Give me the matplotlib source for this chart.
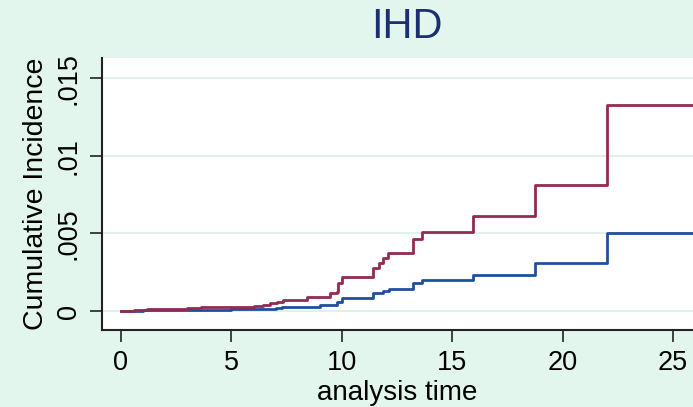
import numpy as np
import matplotlib.pyplot as plt

plt.rcParams['font.family'] = ['Liberation Sans', 'DejaVu Sans']

# step times (analysis time) and cumulative incidence
t_red = [0, 0.6, 1.2, 2.0, 3.0, 3.6, 4.6, 6.0, 6.45, 6.75, 7.05, 7.35, 8.4,
         9.46, 9.76, 9.83, 9.99, 11.39, 11.69, 11.87, 12.1, 13.23, 13.65,
         15.94, 18.73, 22.0, 26.0]
y_red = [0, 0.00005, 0.00013, 0.00016, 0.0002, 0.00025, 0.00028, 0.00032,
         0.00039, 0.0005, 0.0006, 0.00071, 0.00088, 0.00114, 0.00124,
         0.00182, 0.00221, 0.00275, 0.00307, 0.0034, 0.00376, 0.00462,
         0.0051, 0.00612, 0.00811, 0.01327, 0.01327]

t_blue = [0, 1.0, 2.5, 4.0, 5.0, 6.0, 7.0, 7.3, 8.4, 9.0, 9.76, 9.99, 11.39,
          11.87, 12.15, 13.23, 13.65, 15.94, 18.73, 22.0, 26.0]
y_blue = [0, 0.00004, 0.00007, 0.0001, 0.00012, 0.00015, 0.0002, 0.00024,
          0.00028, 0.00039, 0.0006, 0.00086, 0.00114, 0.00129, 0.00142,
          0.00178, 0.002, 0.00232, 0.00311, 0.00504, 0.00504]

x_ticks = [0, 5, 10, 15, 20, 25]
y_ticks = [0, 0.005, 0.01, 0.015]
y_ticklabels = ['0', '.005', '.01', '.015']

bg = '#e2f6ee'
fig = plt.figure(figsize=(6.93, 4.07), dpi=100, facecolor=bg)
ax = fig.add_axes([102 / 693, 77 / 407, 1 - 102 / 693, (330 - 58) / 407])
ax.set_facecolor('white')

ax.step(t_blue, y_blue, where='post', color='#1f4f9c', lw=2, zorder=3)
ax.step(t_red, y_red, where='post', color='#942a52', lw=2, zorder=3)

ax.set_xlim(-0.86, 25.9)
ax.set_ylim(-0.00122, 0.0163)

ax.set_xticks(x_ticks)
ax.set_yticks(y_ticks)
ax.set_yticklabels(y_ticklabels, rotation=90, va='center')
ax.tick_params(axis='both', labelsize=19.5, length=8.5, width=1.2,
               color='#222222', pad=6)
ax.tick_params(axis='y', pad=6)
ax.grid(axis='y', color='#dcf2ea', lw=1.5)
ax.set_axisbelow(True)

for s in ['top', 'right']:
    ax.spines[s].set_visible(False)
for s in ['left', 'bottom']:
    ax.spines[s].set_color('#222222')
    ax.spines[s].set_linewidth(1.5)

ax.set_xlabel('analysis time', fontsize=20, labelpad=3)
ax.set_ylabel('Cumulative Incidence', fontsize=20.5, labelpad=5)
fig.text(407 / 693, 1 - 27 / 407, 'IHD', ha='center', va='center',
         fontsize=30, color='#1b2f72')

fig.savefig('out.png', dpi=100, facecolor=bg)
